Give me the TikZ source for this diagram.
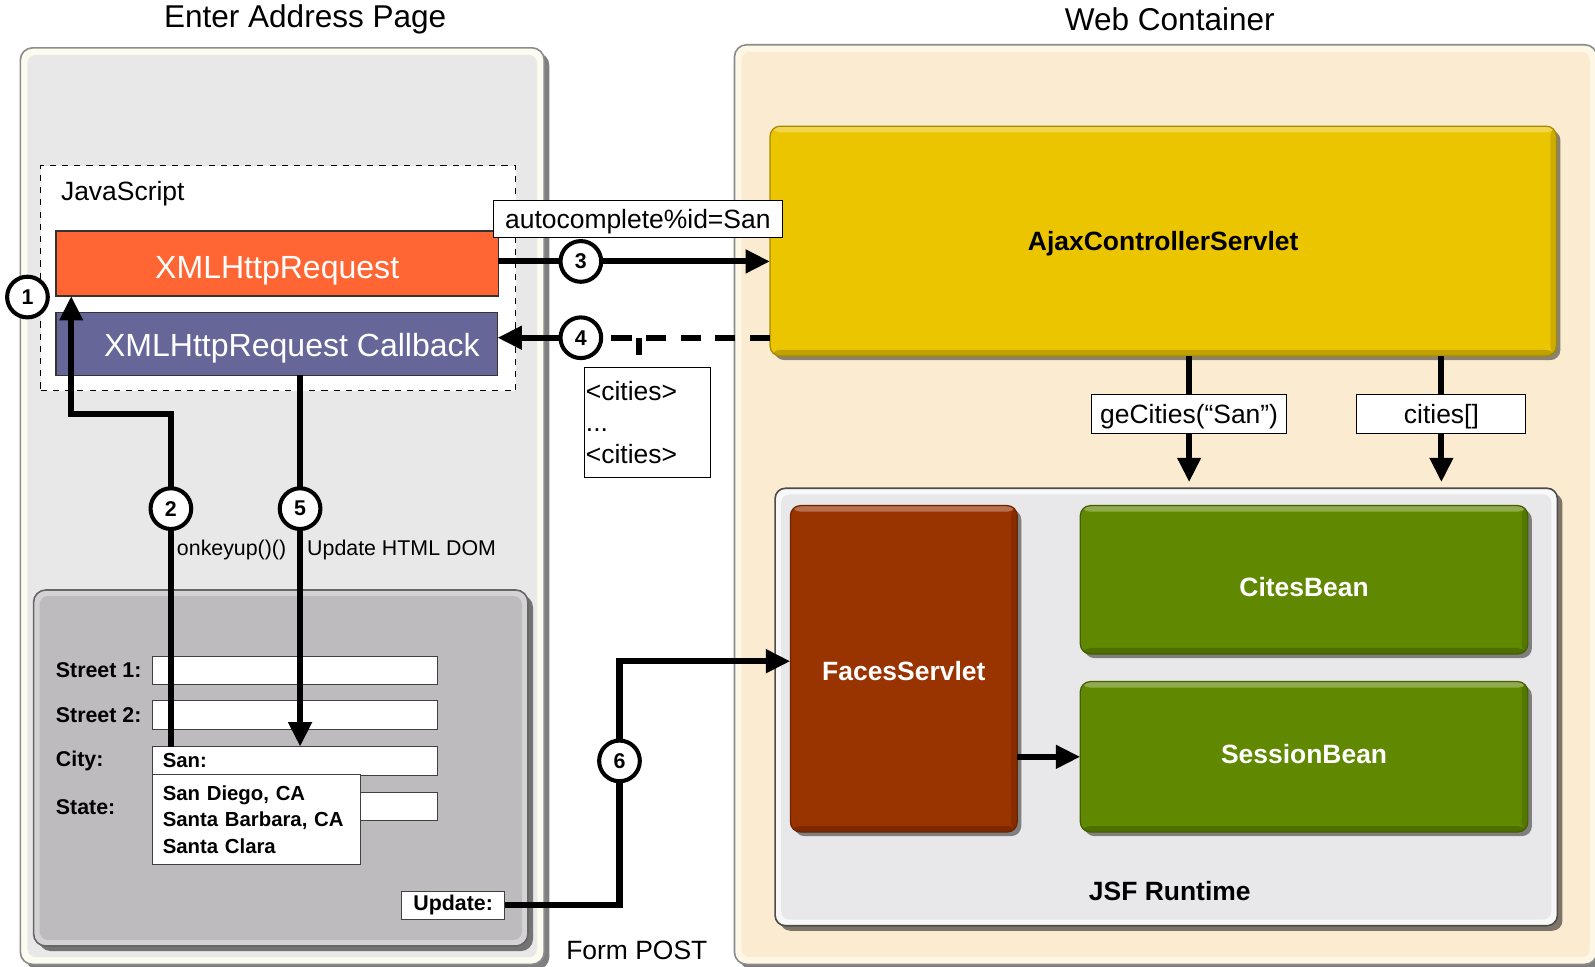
\documentclass[tikz,border=0pt]{standalone}
\usepackage{fontspec}
\setmainfont{Liberation Sans}
\usetikzlibrary{arrows.meta,shadows,calc}
\definecolor{xhrorange}{HTML}{FF6633}
\definecolor{cbpurple}{HTML}{666699}
\definecolor{ajaxyellow}{HTML}{EBC500}
\definecolor{facesbrown}{HTML}{993300}
\definecolor{beangreen}{HTML}{608800}
\definecolor{webcream}{HTML}{FBEBD1}
\definecolor{webrim}{HTML}{FFF7E6}
\definecolor{pagegray}{HTML}{E8E8E8}
\definecolor{pagerim}{HTML}{FBFBF0}
\definecolor{formgray}{HTML}{BDBBBD}
\definecolor{formrim}{HTML}{D4D3D4}
\definecolor{jsfgray}{HTML}{E8E8EA}
\definecolor{jsfrim}{HTML}{F8F8F8}
\newcommand{\fsz}[2]{\fontsize{#1}{#2}\selectfont}
\begin{document}
\begin{tikzpicture}[x=0.5pt,y=-0.5pt,
  every node/.style={inner sep=0pt, outer sep=0pt},
  conn/.style={line width=3pt},
  arr/.style={line width=3pt, -{Triangle[length=12pt,width=11pt]}},
  dashconn/.style={line width=3pt, dash pattern=on 10pt off 7pt},
  stepcirc/.style={circle, draw, line width=2pt, fill=white, minimum size=20pt, font={\bfseries\fsz{10.5}{12}}},
  lbl/.style={draw, fill=white, line width=0.5pt, font={\fsz{13}{15}}},
  onelbl/.style={lbl, text height=9.6pt, text depth=0pt},
  field/.style={draw=black!75, fill=white, line width=0.5pt, minimum width=140pt, minimum height=14pt},
  flabel/.style={anchor=west, font={\bfseries\fsz{10.5}{12}}},
  container/.style={rounded corners=6pt, line width=0.8pt, drop shadow={shadow xshift=2.5pt, shadow yshift=-2.5pt, opacity=0.5, fill=black}},
  appbox/.style={rounded corners=5pt, draw=#1!70!black, fill=#1, line width=0.6pt,
    drop shadow={shadow xshift=2pt, shadow yshift=-2pt, opacity=0.45, fill=black},
    path picture={
      \fill[white, opacity=0.3] (path picture bounding box.north west) rectangle ([yshift=-3pt]path picture bounding box.north east);
      \fill[black, opacity=0.18] (path picture bounding box.south west) rectangle ([yshift=3pt]path picture bounding box.south east);
      \fill[black, opacity=0.12] (path picture bounding box.north east) rectangle ([xshift=-3pt]path picture bounding box.south east);
    },
    text=white, font={\bfseries\fsz{13}{15}}, text depth=0pt},
  title/.style={font={\fsz{15.5}{18}}}
]
\useasboundingbox (0,0) rectangle (1568,950);
\fill[white] (0,0) rectangle (1568,950);

% titles
\node[title] (t1) at (300,19) {Enter Address Page};
\node[title] (t2) at (1150,19) {Web Container};

% left container
\node[container, draw=black!45, fill=pagerim, minimum width=257.5pt, minimum height=450.5pt] (page) at (277.5,497.5) {};
\fill[pagegray, rounded corners=4pt] ([shift={(3.5pt,-3.5pt)}]page.north west) rectangle ([shift={(-3.5pt,3.5pt)}]page.south east);

% right container
\node[container, draw=black!45, fill=webrim, minimum width=424pt, minimum height=452pt] (web) at (1146,496) {};
\fill[webcream, rounded corners=4pt] ([shift={(3.5pt,-3.5pt)}]web.north west) rectangle ([shift={(-3.5pt,3.5pt)}]web.south east);

% JavaScript area
\node[draw, dashed, line width=0.5pt, fill=white, minimum width=233.5pt, minimum height=110.5pt] (js) at (273.5,273.5) {};
\node[anchor=west, font={\fsz{13}{15}}] (jslbl) at (60,190) {JavaScript};
\node[draw=black!80, fill=xhrorange, line width=0.6pt, minimum width=217.5pt, minimum height=32pt, text=white, font={\fsz{15.75}{18}}, text height=14.3pt, text depth=0pt] (xhr) at (272.5,259) {XMLHttpRequest};
\node[draw=black!80, fill=cbpurple, line width=0.6pt, minimum width=217pt, minimum height=31pt, text=white, font={\fsz{15.75}{18}}, text height=12.3pt, text depth=0pt] (cb) at (272,338) {\hspace*{15pt}XMLHttpRequest Callback};

% form
\node[container, draw=black!60, fill=formrim, minimum width=243pt, minimum height=175pt] (form) at (276,755) {};
\fill[formgray, rounded corners=4pt] ([shift={(3pt,-3pt)}]form.north west) rectangle ([shift={(-3pt,3pt)}]form.south east);
\node[flabel] (ls1) at (55,659) {Street 1:};
\node[flabel] (ls2) at (55,703) {Street 2:};
\node[flabel] (lcity) at (55,748) {City:};
\node[flabel] (lstate) at (55,793) {State:};
\node[field] (street1) at (290,659) {};
\node[field] (street2) at (290,703) {};
\node[field] (city) at (290,748) {};
\node[field] (state) at (290,793) {};
\node[anchor=west, font={\bfseries\fsz{10}{12}}] (san) at (160,748) {San:};
\node[draw=black!75, fill=white, line width=0.5pt, minimum width=102pt, minimum height=44.5pt, text width=92pt, align=left, inner xsep=5pt, font={\bfseries\fsz{10}{13}}] (drop) at (252,805.5) {San Diego, CA\\Santa Barbara, CA\\Santa Clara};
\node[draw=black!75, fill=white, line width=0.5pt, minimum width=50.5pt, minimum height=14pt, font={\bfseries\fsz{10.5}{12}}] (update) at (445.5,890) {Update:};

% server side
\node[appbox=ajaxyellow, text=black, minimum width=386.5pt, minimum height=113pt, text height=9.3pt] (ajax) at (1143.5,237) {AjaxControllerServlet};
\node[container, draw=black!70, fill=jsfrim, rounded corners=5pt, minimum width=384.5pt, minimum height=215pt] (jsf) at (1146.5,695) {};
\fill[jsfgray, rounded corners=4pt] ([shift={(3pt,-3pt)}]jsf.north west) rectangle ([shift={(-3pt,3pt)}]jsf.south east);
\node[font={\bfseries\fsz{13}{15}}] (jsflbl) at (1150,876) {JSF Runtime};
\node[appbox=facesbrown, minimum width=111.5pt, minimum height=160.5pt, text height=11.8pt] (faces) at (888.5,657.5) {FacesServlet};
\node[appbox=beangreen, minimum width=220pt, minimum height=73pt, text height=16.3pt] (cites) at (1282,570) {CitesBean};
\node[appbox=beangreen, minimum width=220pt, minimum height=74pt, text height=6.3pt] (session) at (1282,744) {SessionBean};

% step circles
\node[stepcirc] (c1) at (27,292) {1};
\node[stepcirc] (c2) at (168,500) {2};
\node[stepcirc] (c3) at (571,257) {3};
\node[stepcirc] (c4) at (571,332) {4};
\node[stepcirc] (c5) at (295,500) {5};
\node[stepcirc] (c6) at (609,748) {6};

% helper coordinates
\coordinate (k2) at (70,407);
\coordinate (k6) at (609,650);
\coordinate (stub) at (628,349);

% connectors
\draw[conn] (c2 |- city.north) -- (c2);
\draw[arr] (c2) |- (k2) -- (k2 |- xhr.south);
\draw[conn] (c5 |- cb.south) -- (c5);
\draw[arr] (c5) -- (c5 |- city.north);
\draw[conn] (c3 -| xhr.east) -- (c3);
\draw[arr] (c3) -- (c3 -| ajax.west);
\draw[dashconn] (c4 -| ajax.west) -- (c4);
\draw[arr] (c4) -- (c4 -| cb.east);
\draw[conn] (stub |- c4) -- (stub);
\draw[conn] (update.east) -| (c6);
\draw[arr] (c6) |- (k6) -- (k6 -| faces.west);
\draw[arr] (faces.east |- session.west) -- (session.west);

% labels on connectors
\node[onelbl, minimum width=142pt, minimum height=18pt] (auto) at (627,215) {autocomplete\%id=San};
\node[lbl, minimum width=61.5pt, minimum height=54pt, text width=60.5pt, align=left, inner xsep=0.5pt, font={\fsz{13}{15.5}}] (citiesbox) at (636.5,415) {<cities>\\...\\<cities>};
\node[onelbl, minimum width=96pt, minimum height=19pt] (gecities) at (1169,407) {geCities(“San”)};
\node[onelbl, minimum width=83pt, minimum height=19pt] (citiesarr) at (1417,407) {cities[]};
\draw[conn] (gecities |- ajax.south) -- (gecities.north);
\draw[arr, shorten >=3pt] (gecities.south) -- (gecities |- jsf.north);
\draw[conn] (citiesarr |- ajax.south) -- (citiesarr.north);
\draw[arr, shorten >=3pt] (citiesarr.south) -- (citiesarr |- jsf.north);

% free texts
\node[anchor=west, font={\fsz{10.5}{12}}] (onkey) at (174,541) {onkeyup()()};
\node[anchor=west, font={\fsz{10.5}{12}}] (updom) at (302,541) {Update HTML DOM};
\node[font={\fsz{13}{15}}] (post) at (626,934) {Form POST};
\end{tikzpicture}
\end{document}
